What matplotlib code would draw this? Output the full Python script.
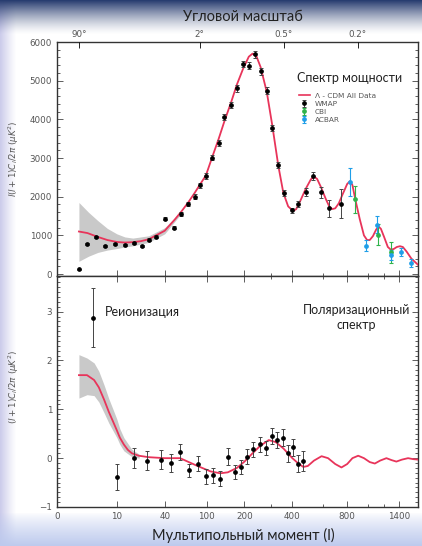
import numpy as np
import matplotlib
matplotlib.use('Agg')
import matplotlib.pyplot as plt
from matplotlib.ticker import MultipleLocator, FixedLocator, NullFormatter
from matplotlib.lines import Line2D

# --- TT power spectrum: model curve (Lambda-CDM) ---
tt_model_l = [2, 3.8, 6, 8, 10, 15, 20, 25, 30, 40, 54, 64, 74, 83, 90, 99, 114, 132, 147, 165,
              180, 196, 216, 230, 245, 260, 283, 304, 333, 357, 380, 405, 425, 450, 486, 520, 540,
              560, 585, 620, 650, 675, 700, 730, 760, 800, 826, 850, 880, 920, 960, 990, 1020,
              1060, 1100, 1130, 1160, 1200, 1250, 1290, 1330, 1370, 1410, 1440, 1480, 1530, 1600]
tt_model = [1100, 1060, 960, 880, 830, 815, 825, 850, 900, 1120, 1400, 1620, 1860, 2100, 2300,
            2550, 3000, 3500, 3950, 4450, 4900, 5300, 5620, 5700, 5620, 5350, 4700, 3850, 2800,
            2100, 1750, 1630, 1680, 1880, 2200, 2450, 2520, 2460, 2250, 1950, 1750, 1680, 1700,
            1830, 2050, 2330, 2400, 2300, 1900, 1420, 1000, 880, 880, 980, 1150, 1230, 1170, 960,
            700, 630, 650, 700, 720, 700, 580, 400, 240]

# cosmic variance band (low l)
tt_band_l = [2, 4, 6, 8, 10, 15, 20, 30, 40, 60]
tt_band_lo = [330, 460, 560, 620, 660, 700, 730, 820, 1040, 1480]
tt_band_hi = [1850, 1600, 1380, 1180, 1040, 960, 930, 990, 1200, 1560]

# --- TT data points ---
wmap_l = [2, 3.8, 5.7, 7.6, 9.7, 15, 21, 25.6, 30, 34.4, 40, 54, 64, 74, 83, 90, 99, 114, 132,
          147, 165, 180, 196, 216, 238, 260, 283, 304, 333, 362, 397, 439, 486, 535, 585, 650, 752]
wmap_tt = [120, 780, 960, 720, 780, 745, 805, 730, 890, 970, 1430, 1200, 1560, 1820, 2000, 2300,
           2535, 3013, 3384, 4068, 4380, 4805, 5436, 5384, 5678, 5247, 4743, 3774, 2813, 2104,
           1644, 1818, 2119, 2535, 2119, 1696, 1818]
wmap_err = [20, 20, 20, 20, 20, 25, 25, 30, 30, 35, 40, 45, 50, 55, 60, 65, 70, 70, 75, 80, 80,
            85, 85, 90, 90, 90, 90, 85, 80, 80, 75, 80, 95, 110, 140, 215, 370]

cbi_l = [874, 1125, 1297]
cbi_tt = [1930, 1020, 560]
cbi_err = [350, 280, 280]

acbar_l = [826, 978, 1116, 1297, 1418, 1531]
acbar_tt = [2390, 735, 1280, 500, 570, 285]
acbar_err = [360, 150, 220, 130, 100, 100]

# --- TE polarisation spectrum ---
te_model_l = [2, 3.7, 5.2, 6.2, 7.3, 8.3, 9.2, 10, 11.9, 14.4, 16.9, 19.4, 23.75, 30, 40, 62,
              87, 110, 136, 156, 180, 200, 230, 258, 290, 320, 357, 400, 439, 471, 500, 540,
              589, 640, 700, 752, 800, 850, 905, 960, 1020, 1084, 1150, 1231, 1300, 1364, 1430,
              1495, 1550, 1600]
te_model = [1.70, 1.70, 1.60, 1.45, 1.20, 0.95, 0.75, 0.57, 0.42, 0.28, 0.17, 0.10, 0.05, 0.02,
            0.0, 0.0, -0.16, -0.27, -0.31, -0.29, -0.2, -0.07, 0.1, 0.25, 0.37, 0.33, 0.2, 0.0,
            -0.11, -0.18, -0.16, -0.05, 0.04, 0.0, -0.12, -0.19, -0.12, 0.0, 0.05, 0.0, -0.08,
            -0.11, -0.05, 0.0, -0.04, -0.07, -0.03, 0.0, -0.02, -0.03]

te_band_l = [2, 3.7, 5.2, 6.2, 7.3, 8.3, 10, 11.9, 14.4, 19.4, 24]
te_band_lo = [1.23, 1.30, 1.28, 1.15, 0.93, 0.72, 0.42, 0.28, 0.15, 0.03, 0.0]
te_band_hi = [2.12, 2.05, 1.95, 1.78, 1.50, 1.22, 0.80, 0.60, 0.42, 0.18, 0.08]

te_l = [5, 10, 20.6, 28.7, 37.5, 48.6, 62, 75, 87, 99, 118, 136, 156, 174, 190, 211, 233, 258,
        279, 301, 325, 357, 381, 406, 439, 471]
te_val = [2.88, -0.38, 0.0, -0.05, -0.03, -0.1, 0.13, -0.25, -0.11, -0.37, -0.35, -0.42, 0.03,
          -0.28, -0.18, 0.03, 0.18, 0.28, 0.21, 0.45, 0.37, 0.42, 0.10, 0.22, -0.11, -0.06]
te_err = [0.6, 0.27, 0.2, 0.2, 0.2, 0.18, 0.17, 0.14, 0.15, 0.15, 0.15, 0.15, 0.17, 0.15, 0.15,
          0.15, 0.15, 0.15, 0.15, 0.17, 0.17, 0.17, 0.17, 0.18, 0.18, 0.2]

angle_l = [2, 90, 360, 900]
angle_labels = ['90°', '2°', '0.5°', '0.2°']
l_ticks = [0, 10, 40, 100, 200, 400, 800, 1400]
l_minor = [300, 600, 1000, 1200]

# non-uniform multipole axis, read from the tick positions
L_ANCH = [0, 2, 10, 40, 100, 200, 300, 400, 600, 800, 1000, 1200, 1400, 1600]
P_ANCH = [58, 80, 118, 166, 208, 246, 273, 294, 325, 349, 370, 386, 401, 420]


def fwd(l):
    return np.interp(l, L_ANCH, P_ANCH)


def inv(p):
    return np.interp(p, P_ANCH, L_ANCH)


RED = '#e8345a'
GREY = '#555555'
TXT = 'Lato'

fig = plt.figure(figsize=(4.22, 5.46), dpi=100)

# background gradient
H, W = 546, 422
yy = np.arange(H)[:, None] * np.ones((1, W))
xx = np.ones((H, 1)) * np.arange(W)[None, :]
img = np.ones((H, W, 3))
for a, col in [(np.clip(1 - xx / 16, 0, 1) ** 1.2, (0.80, 0.80, 0.92)),
               (np.clip((yy - 512) / 34, 0, 1) ** 0.8, (0.74, 0.79, 0.93)),
               (np.clip(1 - yy / 34, 0, 1) ** 1.4, (0.16, 0.24, 0.44))]:
    for c in range(3):
        img[:, :, c] = img[:, :, c] * (1 - a) + col[c] * a
bg = fig.add_axes([0, 0, 1, 1], zorder=-5)
bg.imshow(img, aspect='auto', extent=[0, 1, 0, 1])
bg.axis('off')

left, right = 57 / 422, 418 / 422
ax1 = fig.add_axes([left, 1 - 276 / 546, right - left, (276 - 42) / 546])
ax2 = fig.add_axes([left, 1 - 507 / 546, right - left, (507 - 276) / 546])

for ax in (ax1, ax2):
    ax.set_xscale('function', functions=(fwd, inv))
    ax.set_xlim(0, 1600)
    ax.xaxis.set_major_locator(FixedLocator(l_ticks))
    ax.xaxis.set_minor_locator(FixedLocator(l_minor))
    ax.tick_params(which='both', direction='in', right=True, top=True, colors='#444',
                   labelcolor=GREY, labelsize=6.3, width=0.6)
    ax.tick_params(which='major', length=4)
    ax.tick_params(which='minor', length=2)
    for s in ax.spines.values():
        s.set_linewidth(1.0)
        s.set_color('#333')

# --- top panel ---
ax1.fill_between(tt_band_l, tt_band_lo, tt_band_hi, color='#c9c9c9', lw=0)
ax1.plot(tt_model_l, tt_model, color=RED, lw=1.3, label='Λ - CDM All Data', zorder=3)
e1 = ax1.errorbar(wmap_l, wmap_tt, yerr=wmap_err, fmt='o', ms=2.4, color='black',
                  ecolor='#444', elinewidth=0.7, capsize=1.6, capthick=0.7, label='WMAP', zorder=4)
e2 = ax1.errorbar(cbi_l, cbi_tt, yerr=cbi_err, fmt='o', ms=2.4, color='#2fb34a',
                  ecolor='#2fb34a', elinewidth=0.8, capsize=1.6, capthick=0.8, label='CBI', zorder=4)
e3 = ax1.errorbar(acbar_l, acbar_tt, yerr=acbar_err, fmt='o', ms=2.4, color='#1f9ee8',
                  ecolor='#1f9ee8', elinewidth=0.8, capsize=1.6, capthick=0.8, label='ACBAR', zorder=4)
ax1.set_ylim(-50, 6000)
ax1.yaxis.set_major_locator(MultipleLocator(1000))
ax1.yaxis.set_minor_locator(MultipleLocator(200))
ax1.xaxis.set_major_formatter(NullFormatter())
ax1.set_ylabel(r'$l(l+1)C_l/2\pi\ (\mu K^2)$', fontsize=6.3, color=GREY)
ax1.yaxis.set_label_coords(-0.1, 0.5)

ax1.text(0.81, 0.846, 'Спектр мощности', transform=ax1.transAxes, ha='center', va='center',
         fontsize=9, family=TXT, color='#222')
leg = ax1.legend(handles=[Line2D([], [], color=RED, lw=1.2), e1, e2, e3],
                 labels=['Λ - CDM All Data', 'WMAP', 'CBI', 'ACBAR'],
                 loc='upper left', bbox_to_anchor=(0.655, 0.805), frameon=False, fontsize=5.3,
                 labelcolor=GREY, handlelength=1.6, handletextpad=0.6, labelspacing=0.25,
                 borderpad=0.2)

ax_top = ax1.twiny()
ax_top.set_xscale('function', functions=(fwd, inv))
ax_top.set_xlim(0, 1600)
ax_top.xaxis.set_major_locator(FixedLocator(angle_l))
ax_top.xaxis.set_minor_locator(FixedLocator([]))
ax_top.set_xticklabels(angle_labels)
ax_top.tick_params(direction='in', length=4, width=0.6, labelsize=6.3, labelcolor=GREY, pad=2)
for s in ax_top.spines.values():
    s.set_visible(False)

# --- bottom panel ---
ax2.fill_between(te_band_l, te_band_lo, te_band_hi, color='#c9c9c9', lw=0)
ax2.plot(te_model_l, te_model, color=RED, lw=1.3, zorder=3)
ax2.errorbar(te_l, te_val, yerr=te_err, fmt='o', ms=2.4, color='black', ecolor='#444',
             elinewidth=0.7, capsize=1.6, capthick=0.7, zorder=4)
ax2.set_ylim(-1, 3.73)
ax2.yaxis.set_major_locator(MultipleLocator(1))
ax2.yaxis.set_minor_locator(MultipleLocator(0.1))
ax2.set_ylabel(r'$(l+1)C_l/2\pi\ (\mu K^2)$', fontsize=6.3, color=GREY)
ax2.yaxis.set_label_coords(-0.1, 0.52)

ax2.text(0.133, 0.845, 'Реионизация', transform=ax2.transAxes, ha='left', va='center',
         fontsize=9, family=TXT, color='#222')
ax2.text(0.83, 0.82, 'Поляризационный\nспектр', transform=ax2.transAxes, ha='center',
         va='center', fontsize=9, family=TXT, color='#222', linespacing=1.3)

fig.text(0.576, 0.969, 'Угловой масштаб', ha='center', va='center', fontsize=10.5,
         family=TXT, color='#222')
fig.text(0.576, 0.02, 'Мультипольный момент (l)', ha='center', va='center', fontsize=10.5,
         family=TXT, color='#222')

fig.savefig('out.png', dpi=100)
